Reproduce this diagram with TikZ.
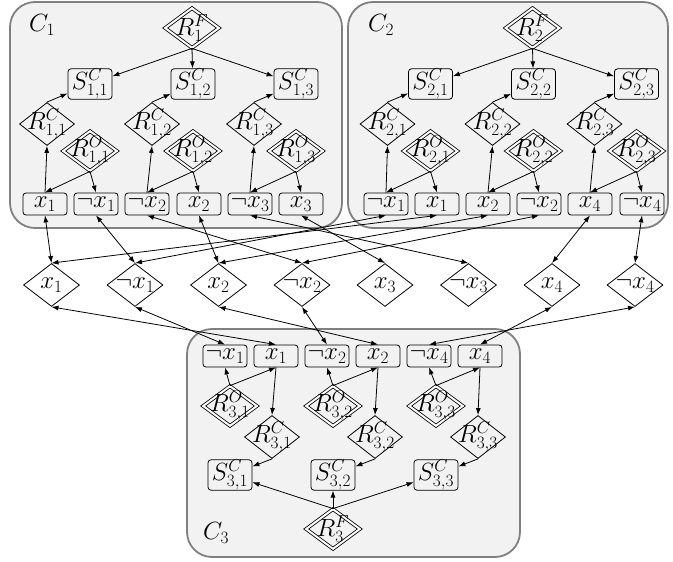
\documentclass[tikz,border=0pt]{standalone}
\usetikzlibrary{shapes.geometric,arrows.meta}
\definecolor{clfill}{RGB}{242,242,242}
\definecolor{clline}{RGB}{128,128,128}
\begin{document}
\begin{tikzpicture}[x=1pt,y=-1pt,
  font=\fontsize{23.5}{27}\selectfont,
  lit/.style={draw, rounded corners=3pt, minimum width=44pt, minimum height=22pt, inner sep=0pt, line width=0.8pt},
  sbox/.style={draw, rounded corners=3pt, minimum width=44pt, minimum height=25pt, inner sep=0pt, line width=0.8pt},
  rdia/.style={draw, diamond, inner sep=-9pt, minimum width=55pt, minimum height=43pt, line width=0.8pt},
  rdbl/.style={rdia, double, double distance=2pt, minimum width=54pt, minimum height=40pt},
  middia/.style={draw, diamond, fill=white, inner sep=-9pt, minimum width=56pt, minimum height=43pt, line width=0.8pt},
  cl/.style={draw=clline, fill=clfill, line width=1.8pt, rounded corners=25pt, inner sep=0pt},
  arr/.style={-{Latex[length=7pt,width=5pt]}, line width=0.8pt},
  barr/.style={{Latex[length=7pt,width=5pt]}-{Latex[length=7pt,width=5pt]}, line width=0.8pt}
]
\useasboundingbox (0,0) rectangle (673,562);
% cluster boxes
\node[cl, minimum width=332pt, minimum height=226pt] (box1) at (176,115) {};
\node[cl, minimum width=320pt, minimum height=226pt] (box2) at (508,115) {};
\node[cl, minimum width=333pt, minimum height=228pt] (box3) at (353.5,443) {};
\node (lab1) at (42,25) {$C_1$};
\node (lab2) at (381,25) {$C_2$};
\node (lab3) at (216,533) {$C_3$};
% clusters 1 and 2
\foreach \p/\ox/\k in {a/0/1,b/340.5/2}{
  \node[rdbl] (\p F) at (192+\ox,28) {$R^{F}_{\k}$};
  \foreach \j/\sx/\cx in {1/90/47, 2/193/152, 3/296/254}{
    \node[sbox] (\p S\j) at (\sx+\ox,84) {$S^{C}_{\k,\j}$};
    \node[rdia] (\p C\j) at (\cx+\ox,124) {$R^{C}_{\k,\j}$};
    \node[rdbl] (\p O\j) at (\sx+\ox,151) {$R^{O}_{\k,\j}$};
  }
}
\node[lit] (aL1) at (45,204) {$x_1$};
\node[lit] (aL2) at (96,204) {$\neg x_1$};
\node[lit] (aL3) at (147,204) {$\neg x_2$};
\node[lit] (aL4) at (199,204) {$x_2$};
\node[lit] (aL5) at (250,204) {$\neg x_3$};
\node[lit] (aL6) at (301,204) {$x_3$};
\node[lit] (bL1) at (386,204) {$\neg x_1$};
\node[lit] (bL2) at (437,204) {$x_1$};
\node[lit] (bL3) at (488,204) {$x_2$};
\node[lit] (bL4) at (539,204) {$\neg x_2$};
\node[lit] (bL5) at (590,204) {$x_4$};
\node[lit] (bL6) at (642,204) {$\neg x_4$};
% cluster 3
\node[rdbl] (cF) at (333,529) {$R^{F}_{3}$};
\foreach \j/\sx/\cx in {1/230/272, 2/333/375, 3/436/478}{
  \node[sbox] (cS\j) at (\sx,475) {$S^{C}_{3,\j}$};
  \node[rdia] (cC\j) at (\cx,437) {$R^{C}_{3,\j}$};
  \node[rdbl] (cO\j) at (\sx,406) {$R^{O}_{3,\j}$};
}
\node[lit] (cL1) at (225,356) {$\neg x_1$};
\node[lit] (cL2) at (276,356) {$x_1$};
\node[lit] (cL3) at (327,356) {$\neg x_2$};
\node[lit] (cL4) at (378,356) {$x_2$};
\node[lit] (cL5) at (429,356) {$\neg x_4$};
\node[lit] (cL6) at (480,356) {$x_4$};
% middle row
\node[middia] (m1) at (51.5,285) {$x_1$};
\node[middia] (m2) at (135,285) {$\neg x_1$};
\node[middia] (m3) at (218.5,285) {$x_2$};
\node[middia] (m4) at (302,285) {$\neg x_2$};
\node[middia] (m5) at (385,285) {$x_3$};
\node[middia] (m6) at (468.5,285) {$\neg x_3$};
\node[middia] (m7) at (552,285) {$x_4$};
\node[middia] (m8) at (635,285) {$\neg x_4$};
% internal edges clusters 1,2
\foreach \p in {a,b}{
  \foreach \j/\f/\s in {1/1/2, 2/3/4, 3/5/6}{
    \draw[arr] (\p F.south) -- (\p S\j);
    \draw[arr] (\p C\j.north) -- (\p S\j);
    \draw[arr] (\p L\f.north) -- (\p C\j.south);
    \draw[arr] (\p O\j.south) -- (\p L\f.north);
    \draw[arr] (\p O\j.south) -- (\p L\s.north);
  }
}
% internal edges cluster 3
\foreach \j/\f/\s in {1/1/2, 2/3/4, 3/5/6}{
  \draw[arr] (cO\j.north) -- (cL\f.south);
  \draw[arr] (cO\j.north) -- (cL\s.south);
  \draw[arr] (cL\s.south) -- (cC\j.north);
  \draw[arr] (cC\j.south) -- (cS\j);
  \draw[arr] (cF.north) -- (cS\j);
}
% connections
\draw[barr] (aL1.south) -- (m1.north);
\draw[barr] (aL2.south) -- (m2.north);
\draw[barr] (aL3.south) -- (m4.north);
\draw[barr] (aL4.south) -- (m3.north);
\draw[barr] (aL5.south) -- (m6.north);
\draw[barr] (aL6.south) -- (m5.north);
\draw[barr] (bL1.south) -- (m2.north);
\draw[barr] (bL2.south) -- (m1.north);
\draw[barr] (bL3.south) -- (m3.north);
\draw[barr] (bL4.south) -- (m4.north);
\draw[barr] (bL5.south) -- (m7.north);
\draw[barr] (bL6.south) -- (m8.north);
\draw[barr] (m2.south) -- (cL1.north);
\draw[barr] (m1.south) -- (cL2.north);
\draw[barr] (m4.south) -- (cL3.north);
\draw[barr] (m3.south) -- (cL4.north);
\draw[barr] (m8.south) -- (cL5.north);
\draw[barr] (m7.south) -- (cL6.north);
\end{tikzpicture}
\end{document}
